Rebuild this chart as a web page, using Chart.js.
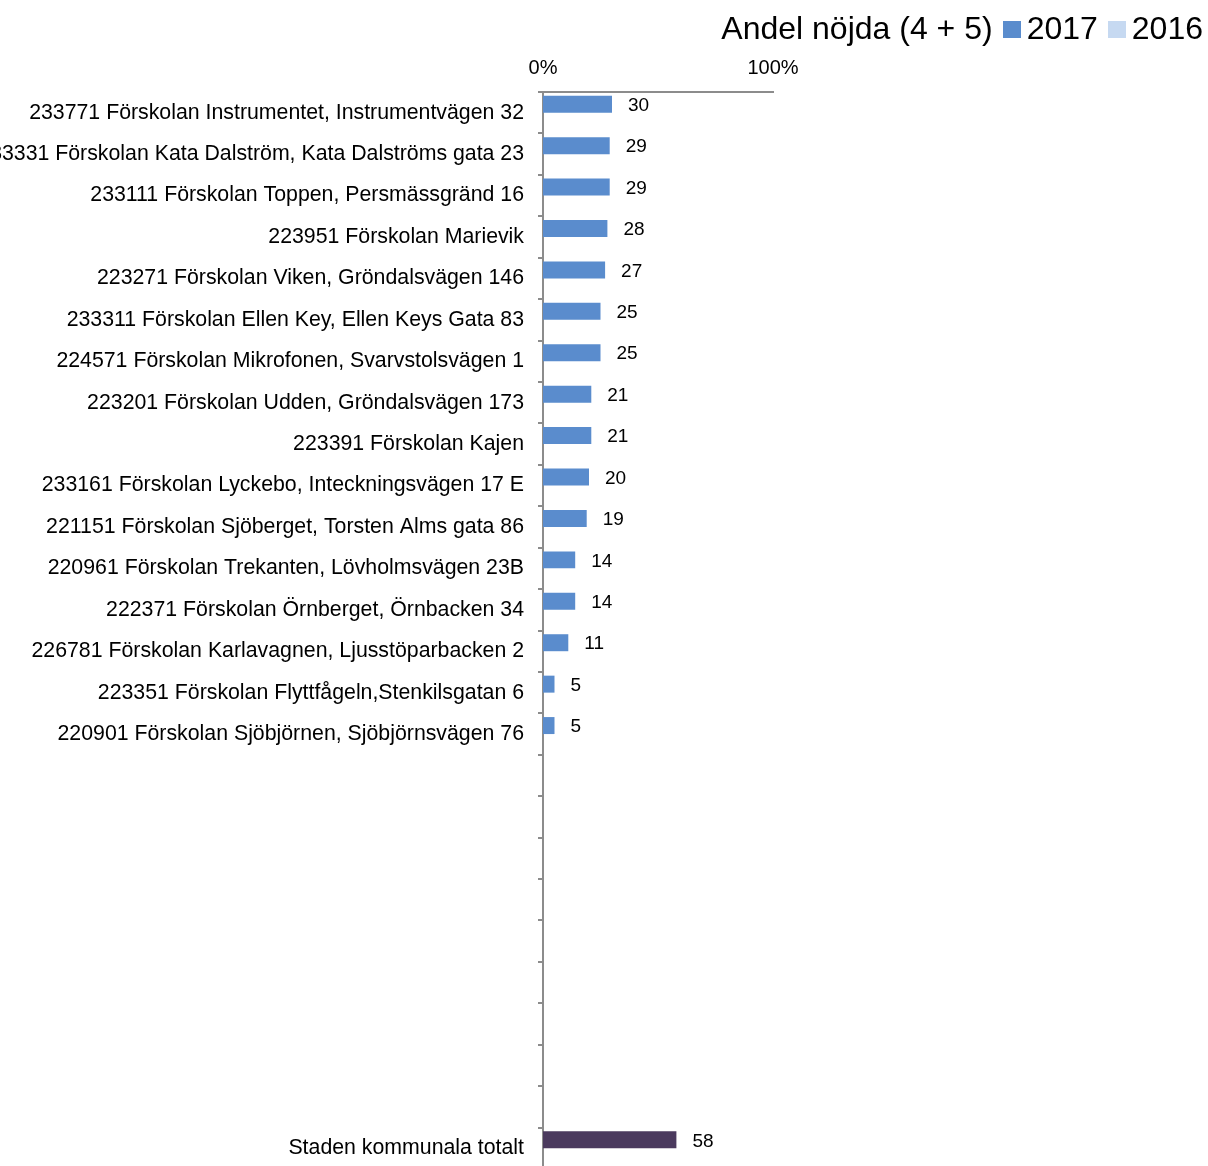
<!DOCTYPE html>
<html lang="sv">
<head>
<meta charset="utf-8">
<title>Andel nöjda (4 + 5)</title>
<script src="https://cdn.jsdelivr.net/npm/chart.js@4.4.1/dist/chart.umd.min.js"></script>
<style>
  html, body { margin: 0; padding: 0; background: #fff; overflow: hidden; }
  #wrap { position: relative; width: 1208px; height: 1169px; }
  #legend {
    position: absolute; top: 10px; right: 5px;
    display: flex; align-items: center;
    font-family: "Liberation Sans", Arial, sans-serif;
    font-size: 32px; line-height: 36px; color: #000;
  }
  #legend .box { width: 18px; height: 17px; margin: 3px 6px 0 10px; }
</style>
</head>
<body>
<div id="wrap">
  <canvas id="chart"></canvas>
  <div id="legend"><span>Andel nöjda (4 + 5)</span></div>
</div>
<script>
const categories = [
    "233771 Förskolan Instrumentet, Instrumentvägen 32",
    "233331 Förskolan Kata Dalström, Kata Dalströms gata 23",
    "233111 Förskolan Toppen, Persmässgränd 16",
    "223951 Förskolan Marievik",
    "223271 Förskolan Viken, Gröndalsvägen 146",
    "233311 Förskolan Ellen Key, Ellen Keys Gata 83",
    "224571 Förskolan Mikrofonen, Svarvstolsvägen 1",
    "223201 Förskolan Udden, Gröndalsvägen 173",
    "223391 Förskolan Kajen",
    "233161 Förskolan Lyckebo, Inteckningsvägen 17 E",
    "221151 Förskolan Sjöberget, Torsten Alms gata 86",
    "220961 Förskolan Trekanten, Lövholmsvägen 23B",
    "222371 Förskolan Örnberget, Örnbacken 34",
    "226781 Förskolan Karlavagnen, Ljusstöparbacken 2",
    "223351 Förskolan Flyttfågeln,Stenkilsgatan 6",
    "220901 Förskolan Sjöbjörnen, Sjöbjörnsvägen 76",
    "", "", "", "", "", "", "", "", "",
    "Staden kommunala totalt"
];

const values2017 = [30, 29, 29, 28, 27, 25, 25, 21, 21, 20, 19, 14, 14, 11, 5, 5,
    null, null, null, null, null, null, null, null, null, 58];
const values2016 = categories.map(() => null);

const xTicks = [0, 100];
const totalLabel = "Staden kommunala totalt";

document.addEventListener("DOMContentLoaded", function() {
    const blue = '#5A8CCD';
    const lightBlue = '#C6D9F1';
    const purple = '#4B3A5E';
    const axisGrey = '#8C8C8C';

    Chart.defaults.font.family = '"Liberation Sans", Arial, sans-serif';
    Chart.defaults.color = '#000';

    // value labels to the right of each bar
    const valueLabels = {
        id: 'valueLabels',
        afterDatasetsDraw(chart) {
            const ctx = chart.ctx;
            const meta = chart.getDatasetMeta(0);
            ctx.save();
            ctx.font = '19px "Liberation Sans", Arial, sans-serif';
            ctx.fillStyle = '#000';
            ctx.textAlign = 'left';
            ctx.textBaseline = 'middle';
            meta.data.forEach((bar, i) => {
                const v = chart.data.datasets[0].data[i];
                if (v === null) return;
                ctx.fillText(v, bar.x + 16, bar.y + 1.5);
            });
            ctx.restore();
        }
    };

    const ctx = document.getElementById('chart').getContext('2d');
    const chart = new Chart(ctx, {
        type: 'bar',
        data: {
            labels: categories,
            datasets: [
                {
                    label: '2017',
                    data: values2017,
                    backgroundColor: categories.map(c => c === totalLabel ? purple : blue),
                    legendColor: blue
                },
                {
                    label: '2016',
                    data: values2016,
                    backgroundColor: lightBlue,
                    legendColor: lightBlue
                }
            ]
        },
        options: {
            indexAxis: 'y',
            responsive: true,
            maintainAspectRatio: false,
            animation: false,
            layout: { padding: { left: 0, right: 435, top: 0, bottom: 0 } },
            datasets: {
                bar: { barPercentage: 1, categoryPercentage: 0.82 }
            },
            plugins: {
                legend: { display: false },
                title: { display: false },
                tooltip: { enabled: false }
            },
            scales: {
                x: {
                    position: 'top',
                    min: xTicks[0],
                    max: xTicks[xTicks.length - 1],
                    afterBuildTicks: scale => {
                        scale.ticks = xTicks.map(v => ({ value: v }));
                    },
                    afterFit: scale => { scale.height = 92; },
                    grid: { display: false },
                    border: { display: true, color: axisGrey, width: 2 },
                    ticks: {
                        padding: 4,
                        font: { size: 20 },
                        color: '#000',
                        callback: v => v + '%'
                    }
                },
                y: {
                    afterFit: scale => {
                        // fixed label column; no extra room above/below the rows
                        scale.width = 543;
                        scale.paddingTop = 0;
                        scale.paddingBottom = 0;
                    },
                    grid: {
                        offset: true,
                        drawOnChartArea: false,
                        drawTicks: true,
                        tickLength: 5,
                        color: axisGrey,
                        lineWidth: 2
                    },
                    border: { display: true, color: axisGrey, width: 2 },
                    ticks: {
                        autoSkip: false,
                        padding: 14,
                        font: { size: 21.3 },
                        color: '#000'
                    }
                }
            }
        },
        plugins: [valueLabels]
    });

    // legend entries built from the datasets
    const legend = document.getElementById('legend');
    chart.data.datasets.forEach(ds => {
        const box = document.createElement('span');
        box.className = 'box';
        box.style.background = ds.legendColor;
        const txt = document.createElement('span');
        txt.textContent = ds.label;
        legend.appendChild(box);
        legend.appendChild(txt);
    });
});
</script>
</body>
</html>
